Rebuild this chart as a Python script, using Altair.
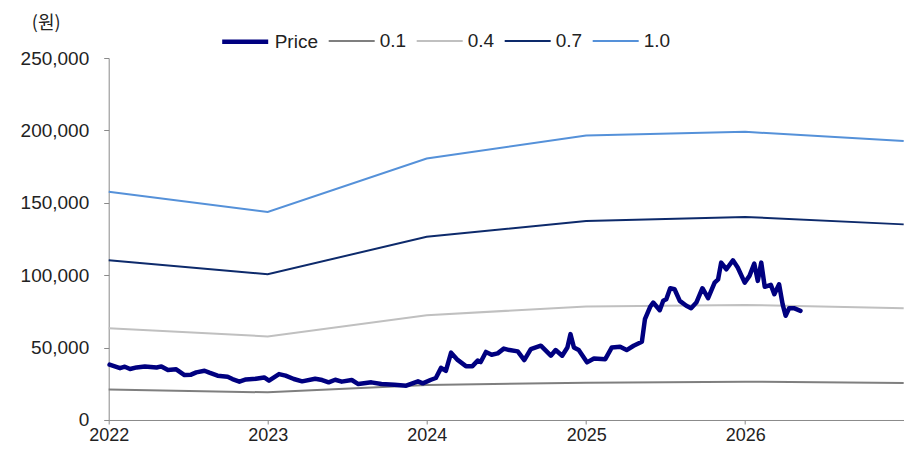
import altair as alt
import pandas as pd

# ---- data ----
series_order = ["Price", "0.1", "0.4", "0.7", "1.0"]
series_colors = ["#000080", "#7f7f7f", "#c0c0c0", "#0d2a6b", "#5591d9"]
series_widths = [4.5, 2, 2, 2, 2]

band_dates = ["2022-01-01", "2023-01-01", "2024-01-01", "2025-01-01", "2026-01-01", "2026-12-31"]
band_01 = [21000, 19100, 24100, 25800, 26500, 25600]
band_04 = [63400, 57700, 72400, 78400, 79500, 77200]
band_07 = [110300, 100600, 126600, 137400, 140200, 135100]
band_10 = [157600, 143600, 180600, 196400, 199000, 192600]

price_dates = [
    "2022-01-03", "2022-01-27", "2022-02-07", "2022-02-19", "2022-03-06", "2022-03-25",
    "2022-04-21", "2022-05-02", "2022-05-17", "2022-06-05", "2022-06-24", "2022-07-09",
    "2022-07-21", "2022-08-09", "2022-08-20", "2022-09-08", "2022-10-01", "2022-10-12",
    "2022-10-28", "2022-11-12", "2022-12-05", "2022-12-24", "2023-01-04", "2023-01-27",
    "2023-02-11", "2023-03-02", "2023-03-21", "2023-04-20", "2023-05-06", "2023-05-21",
    "2023-06-05", "2023-06-20", "2023-07-13", "2023-07-28", "2023-08-27", "2023-09-19",
    "2023-10-19", "2023-11-15", "2023-12-12", "2023-12-23", "2024-01-11", "2024-01-22",
    "2024-02-03", "2024-02-14", "2024-02-26", "2024-03-12", "2024-03-31", "2024-04-15",
    "2024-04-27", "2024-05-04", "2024-05-16", "2024-05-29", "2024-06-12", "2024-06-26",
    "2024-07-09", "2024-07-28", "2024-08-12", "2024-08-27", "2024-09-19", "2024-10-12",
    "2024-10-23", "2024-11-07", "2024-11-19", "2024-11-26", "2024-12-04", "2024-12-15",
    "2025-01-03", "2025-01-19", "2025-02-14", "2025-03-01", "2025-03-20", "2025-04-04",
    "2025-04-20", "2025-05-09", "2025-05-16", "2025-05-28", "2025-06-04", "2025-06-19",
    "2025-06-27", "2025-07-04", "2025-07-13", "2025-07-23", "2025-08-04", "2025-08-19",
    "2025-08-30", "2025-09-11", "2025-09-25", "2025-10-08", "2025-10-23", "2025-10-31",
    "2025-11-07", "2025-11-19", "2025-12-04", "2025-12-15", "2025-12-31", "2026-01-11",
    "2026-01-22", "2026-01-30", "2026-02-07", "2026-02-15", "2026-03-01", "2026-03-09",
    "2026-03-20", "2026-03-28", "2026-04-04", "2026-04-12", "2026-04-23", "2026-05-08",
]
price_values = [
    38200, 35800, 36800, 35200, 36300, 37000,
    36300, 37000, 34500, 35000, 31000, 31300,
    32900, 34000, 32700, 30600, 29900, 28300,
    26500, 28000, 28500, 29400, 27200, 31700,
    30600, 28300, 26700, 28500, 27600, 26000,
    27800, 26500, 27600, 24800, 26000, 24800,
    24400, 23700, 26700, 25300, 27800, 29000,
    36000, 34000, 46500, 41500, 37200, 37200,
    41000, 40000, 47000, 45100, 46000, 49300,
    48300, 47400, 41400, 48900, 51300, 44400,
    48300, 44400, 50100, 59300, 50100, 48300,
    39800, 42500, 42000, 50100, 50600, 48300,
    51300, 54000, 69600, 78200, 81100, 75800,
    82300, 83400, 91000, 90300, 82300, 78900,
    77200, 81100, 91000, 84100, 94900, 97200,
    108700, 104100, 110300, 105300, 94900, 99500,
    108000, 96100, 108700, 92000, 93300, 86900,
    93700, 80000, 72000, 77200, 77200, 75400,
]

y_ticks = [0, 50000, 100000, 150000, 200000, 250000]
x_tick_years = [2022, 2023, 2024, 2025, 2026]

# ---- tables ----
band_rows = []
for name, vals in [("0.1", band_01), ("0.4", band_04), ("0.7", band_07), ("1.0", band_10)]:
    for d, v in zip(band_dates, vals):
        band_rows.append({"date": d, "value": v, "series": name})
bands_df = pd.DataFrame(band_rows)
price_df = pd.DataFrame({"date": price_dates, "value": price_values, "series": "Price"})

FONT = "Liberation Sans"
AXIS_COL = "#8a8a8a"
TXT_COL = "#222222"

x_enc = alt.X(
    "date:T",
    scale=alt.Scale(
        type="utc",
        nice=False,
        domain=[alt.DateTime(year=2022, month=1, date=1, utc=True),
                alt.DateTime(year=2026, month=12, date=31, utc=True)],
    ),
    axis=alt.Axis(
        title=None,
        values=[alt.DateTime(year=y, month=1, date=1, utc=True) for y in x_tick_years],
        format="%Y",
        grid=False,
        domainColor=AXIS_COL,
        tickColor=AXIS_COL,
        tickSize=4,
        labelFont=FONT,
        labelFontSize=18,
        labelColor=TXT_COL,
        labelPadding=3,
        labelFlush=False,
    ),
)
y_enc = alt.Y(
    "value:Q",
    scale=alt.Scale(domain=[0, 250000], nice=False),
    axis=alt.Axis(
        title="(원)",
        titleAngle=0,
        titleAlign="center",
        titleBaseline="middle",
        titleX=-63,
        titleY=-35,
        titleFont="Noto Sans CJK KR",
        titleFontSize=18,
        titleFontWeight="normal",
        titleColor=TXT_COL,
        values=y_ticks,
        format=",.0f",
        grid=False,
        domainColor=AXIS_COL,
        tickColor=AXIS_COL,
        tickSize=5,
        labelFont=FONT,
        labelFontSize=19,
        labelColor=TXT_COL,
        labelPadding=15,
    ),
)

legend = alt.Legend(
    title=None,
    orient="none",
    legendX=111,
    legendY=-42,
    direction="horizontal",
    symbolType="stroke",
    symbolSize=2116,
    labelFont=FONT,
    labelFontSize=19,
    labelColor=TXT_COL,
    labelOffset=4,
    columnPadding=6,
    padding=0,
)

color_enc = alt.Color("series:N", scale=alt.Scale(domain=series_order, range=series_colors), legend=legend)
width_enc = alt.StrokeWidth("series:N", scale=alt.Scale(type="ordinal", domain=series_order, range=series_widths), legend=legend)

bands = alt.Chart(bands_df).mark_line(strokeCap="butt").encode(
    x=x_enc, y=y_enc, color=color_enc, strokeWidth=width_enc, detail="series:N"
)
price = alt.Chart(price_df).mark_line(strokeJoin="round", strokeCap="round").encode(
    x=x_enc, y=y_enc, color=color_enc, strokeWidth=width_enc
)

chart = (
    alt.layer(bands, price)
    .properties(
        width=795,
        height=362,
        autosize=alt.AutoSizeParams(type="none"),
        padding={"left": 100.7, "top": 50, "right": 0, "bottom": 24},
        background="white",
    )
    .configure_view(stroke=None)
)

chart.save("out.html", embed_options={"renderer": "svg", "actions": False})
